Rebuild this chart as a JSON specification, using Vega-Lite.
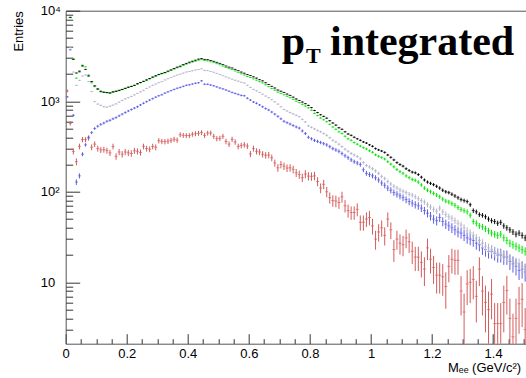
{
"$schema":"https://vega.github.io/schema/vega-lite/v6.json",
"width":460,"height":333,
"autosize":{"type":"none"},
"padding":{"left":65.7,"top":10.7,"right":0,"bottom":34},
"config":{"view":{"stroke":null},"font":"Liberation Sans","axis":{"grid":false}},
"resolve":{"axis":{"y":"independent"}},
"data":{"values":[
{"m":0.005,"b":1120,"be":26,"r":1300,"re":47},
{"m":0.015,"k":8400,"ke":41,"g":8500,"ge":46,"y":3900,"ye":36,"b":3700,"be":48,"r":570,"re":31},
{"m":0.025,"k":2900,"ke":24,"g":2950,"ge":27,"y":2100,"ye":26,"b":700,"be":21,"r":280,"re":22},
{"m":0.035,"k":2050,"ke":20,"g":1800,"ge":21,"y":1500,"ye":22,"b":128,"be":9,"r":215,"re":19},
{"m":0.045,"k":2150,"ke":21,"g":2100,"ge":23,"y":1700,"ye":24,"b":150,"be":9.7,"r":317,"re":23},
{"m":0.055,"k":2450,"ke":22,"g":2500,"ge":25,"y":1900,"ye":25,"b":260,"be":13,"r":377,"re":25},
{"m":0.065,"k":2250,"ke":21,"g":2400,"ge":24,"y":1950,"ye":25,"b":330,"be":14,"r":377,"re":25},
{"m":0.075,"k":1900,"ke":19.5,"g":1950,"ge":22,"y":1650,"ye":23,"b":400,"be":16,"r":392,"re":26},
{"m":0.085,"k":1650,"ke":18,"g":1600,"ge":20,"y":1280,"ye":21,"b":450,"be":17,"r":310,"re":23},
{"m":0.095,"k":1480,"ke":17,"g":1450,"ge":19,"y":990,"ye":18,"b":500,"be":18,"r":336,"re":24},
{"m":0.105,"k":1370,"ke":16.5,"g":1350,"ge":18,"y":930,"ye":17.6,"b":530,"be":18,"r":300,"re":22.5},
{"m":0.115,"k":1290,"ke":16,"g":1270,"ge":17.8,"y":900,"ye":17.3,"b":555,"be":18.6,"r":290,"re":22},
{"m":0.125,"k":1260,"ke":16,"g":1250,"ge":17.7,"y":870,"ye":17,"b":575,"be":19,"r":292,"re":22},
{"m":0.135,"k":1250,"ke":16,"g":1240,"ge":17.6,"y":860,"ye":17,"b":600,"be":19.4,"r":285,"re":22},
{"m":0.145,"k":1235,"ke":15.7,"g":1230,"ge":17.5,"y":880,"ye":17,"b":615,"be":19.6,"r":269,"re":21},
{"m":0.155,"k":1270,"ke":16,"g":1260,"ge":17.7,"y":905,"ye":17.4,"b":640,"be":20,"r":317,"re":23},
{"m":0.165,"k":1290,"ke":16,"g":1285,"ge":18,"y":935,"ye":17.6,"b":660,"be":20.3,"r":246,"re":20.4},
{"m":0.175,"k":1320,"ke":16.2,"g":1310,"ge":18,"y":975,"ye":18,"b":690,"be":20.8,"r":275,"re":21.6},
{"m":0.185,"k":1350,"ke":16.4,"g":1345,"ge":18.3,"y":1020,"ye":18.4,"b":720,"be":21.2,"r":260,"re":21},
{"m":0.195,"k":1390,"ke":16.7,"g":1380,"ge":18.6,"y":1060,"ye":18.8,"b":750,"be":21.6,"r":275,"re":21.6},
{"m":0.205,"k":1430,"ke":17,"g":1420,"ge":18.8,"y":1095,"ye":19,"b":780,"be":22,"r":269,"re":21.3},
{"m":0.215,"k":1460,"ke":17,"g":1455,"ge":19,"y":1130,"ye":19.4,"b":810,"be":22.5,"r":265,"re":21.2},
{"m":0.225,"k":1500,"ke":17.3,"g":1490,"ge":19.3,"y":1175,"ye":19.8,"b":840,"be":23,"r":284,"re":21.9},
{"m":0.235,"k":1560,"ke":17.7,"g":1550,"ge":19.7,"y":1220,"ye":20,"b":870,"be":23.3,"r":280,"re":21.8},
{"m":0.245,"k":1610,"ke":18,"g":1600,"ge":20,"y":1270,"ye":20.6,"b":910,"be":23.8,"r":272,"re":21.4},
{"m":0.255,"k":1660,"ke":18.2,"g":1650,"ge":20.3,"y":1320,"ye":21,"b":950,"be":24.3,"r":317,"re":23},
{"m":0.265,"k":1720,"ke":18.5,"g":1705,"ge":20.6,"y":1385,"ye":21.5,"b":990,"be":24.9,"r":300,"re":22.5},
{"m":0.275,"k":1780,"ke":18.9,"g":1770,"ge":21,"y":1440,"ye":21.9,"b":1030,"be":25.4,"r":295,"re":22.3},
{"m":0.285,"k":1850,"ke":19.2,"g":1835,"ge":21.4,"y":1500,"ye":22.4,"b":1070,"be":25.8,"r":317,"re":23},
{"m":0.295,"k":1910,"ke":19.5,"g":1895,"ge":21.8,"y":1550,"ye":22.7,"b":1110,"be":26.3,"r":310,"re":22.9},
{"m":0.305,"k":1980,"ke":19.9,"g":1960,"ge":22,"y":1605,"ye":23,"b":1150,"be":26.8,"r":367,"re":24.9},
{"m":0.315,"k":2030,"ke":20,"g":2010,"ge":22.4,"y":1650,"ye":23.4,"b":1180,"be":27,"r":360,"re":24.7},
{"m":0.325,"k":2080,"ke":20.4,"g":2055,"ge":22.7,"y":1720,"ye":23.9,"b":1230,"be":27.7,"r":358,"re":24.6},
{"m":0.335,"k":2150,"ke":20.7,"g":2120,"ge":23,"y":1775,"ye":24.3,"b":1270,"be":28,"r":362,"re":24.7},
{"m":0.345,"k":2220,"ke":21,"g":2190,"ge":23.4,"y":1830,"ye":24.7,"b":1310,"be":28.6,"r":370,"re":25},
{"m":0.355,"k":2300,"ke":21.4,"g":2265,"ge":23.8,"y":1890,"ye":25,"b":1350,"be":29,"r":380,"re":25.3},
{"m":0.365,"k":2380,"ke":21.8,"g":2340,"ge":24.2,"y":1945,"ye":25.5,"b":1390,"be":29.5,"r":372,"re":25},
{"m":0.375,"k":2440,"ke":22,"g":2395,"ge":24.5,"y":1990,"ye":25.7,"b":1420,"be":29.8,"r":427,"re":26.9},
{"m":0.385,"k":2540,"ke":22.5,"g":2490,"ge":25,"y":2045,"ye":26,"b":1460,"be":30.2,"r":420,"re":26.6},
{"m":0.395,"k":2620,"ke":22.9,"g":2565,"ge":25.3,"y":2100,"ye":26.5,"b":1500,"be":30.6,"r":418,"re":26.6},
{"m":0.405,"k":2700,"ke":23.2,"g":2640,"ge":25.7,"y":2130,"ye":26.6,"b":1520,"be":30.8,"r":418,"re":26.6},
{"m":0.415,"k":2770,"ke":23.5,"g":2705,"ge":26,"y":2170,"ye":26.9,"b":1550,"be":31.1,"r":432,"re":27},
{"m":0.425,"k":2840,"ke":23.8,"g":2770,"ge":26.3,"y":2210,"ye":27.1,"b":1580,"be":31.4,"r":438,"re":27.2},
{"m":0.435,"k":2920,"ke":24.2,"g":2845,"ge":26.7,"y":2240,"ye":27.3,"b":1600,"be":31.6,"r":442,"re":27.3},
{"m":0.445,"k":2960,"ke":24.3,"g":2880,"ge":26.8,"y":2280,"ye":27.6,"b":1680,"be":32.4,"r":450,"re":27.6},
{"m":0.455,"k":2900,"ke":24,"g":2815,"ge":26.5,"y":2190,"ye":27,"b":1540,"be":31,"r":420,"re":26.6},
{"m":0.465,"k":2880,"ke":24,"g":2790,"ge":26.4,"y":2180,"ye":27,"b":1540,"be":31,"r":445,"re":27.4},
{"m":0.475,"k":2820,"ke":23.7,"g":2730,"ge":26.1,"y":2130,"ye":26.6,"b":1510,"be":30.7,"r":445,"re":27.4},
{"m":0.485,"k":2760,"ke":23.5,"g":2670,"ge":25.8,"y":2090,"ye":26.4,"b":1480,"be":30.4,"r":410,"re":26.3},
{"m":0.495,"k":2690,"ke":23.2,"g":2600,"ge":25.5,"y":2030,"ye":26,"b":1440,"be":30,"r":386,"re":25.5},
{"m":0.505,"k":2620,"ke":22.9,"g":2530,"ge":25.2,"y":1975,"ye":25.7,"b":1400,"be":29.6,"r":390,"re":25.7},
{"m":0.515,"k":2540,"ke":22.5,"g":2450,"ge":24.7,"y":1920,"ye":25.3,"b":1370,"be":29.2,"r":410,"re":26.3},
{"m":0.525,"k":2450,"ke":22.1,"g":2360,"ge":24.3,"y":1860,"ye":24.9,"b":1330,"be":28.8,"r":360,"re":24.7},
{"m":0.535,"k":2380,"ke":21.8,"g":2290,"ge":23.9,"y":1805,"ye":24.5,"b":1290,"be":28.4,"r":336,"re":23.8},
{"m":0.545,"k":2330,"ke":21.6,"g":2240,"ge":23.7,"y":1750,"ye":24.2,"b":1250,"be":27.9,"r":380,"re":25.3},
{"m":0.555,"k":2250,"ke":21.2,"g":2160,"ge":23.2,"y":1705,"ye":23.8,"b":1220,"be":27.6,"r":355,"re":24.5},
{"m":0.565,"k":2180,"ke":20.9,"g":2090,"ge":22.9,"y":1665,"ye":23.6,"b":1190,"be":27.3,"r":317,"re":23.1},
{"m":0.575,"k":2100,"ke":20.5,"g":2010,"ge":22.4,"y":1620,"ye":23.2,"b":1160,"be":26.9,"r":325,"re":23.4},
{"m":0.585,"k":2040,"ke":20.2,"g":1950,"ge":22.1,"y":1590,"ye":23,"b":1150,"be":26.8,"r":330,"re":23.6},
{"m":0.595,"k":1970,"ke":19.8,"g":1880,"ge":21.7,"y":1500,"ye":22.4,"b":1080,"be":26,"r":320,"re":23.3},
{"m":0.605,"k":1920,"ke":19.6,"g":1830,"ge":21.4,"y":1420,"ye":21.8,"b":1030,"be":25.4,"r":262,"re":21},
{"m":0.615,"k":1860,"ke":19.3,"g":1770,"ge":21,"y":1350,"ye":21.2,"b":980,"be":24.7,"r":300,"re":22.5},
{"m":0.625,"k":1800,"ke":19,"g":1710,"ge":20.7,"y":1305,"ye":20.8,"b":950,"be":24.3,"r":280,"re":21.8},
{"m":0.635,"k":1730,"ke":18.6,"g":1645,"ge":20.3,"y":1250,"ye":20.4,"b":910,"be":23.8,"r":275,"re":21.6},
{"m":0.645,"k":1680,"ke":18.3,"g":1595,"ge":20,"y":1195,"ye":20,"b":870,"be":23.3,"r":260,"re":21},
{"m":0.655,"k":1600,"ke":17.9,"g":1520,"ge":19.5,"y":1140,"ye":19.5,"b":830,"be":22.8,"r":253,"re":20.7},
{"m":0.665,"k":1530,"ke":17.5,"g":1450,"ge":19,"y":1095,"ye":19,"b":800,"be":22.3,"r":255,"re":20.8},
{"m":0.675,"k":1460,"ke":17.1,"g":1385,"ge":18.6,"y":1040,"ye":18.6,"b":760,"be":21.8,"r":237,"re":20},
{"m":0.685,"k":1400,"ke":16.7,"g":1325,"ge":18.2,"y":985,"ye":18.1,"b":720,"be":21.2,"r":208,"re":18.7},
{"m":0.695,"k":1330,"ke":16.3,"g":1260,"ge":17.7,"y":930,"ye":17.6,"b":680,"be":20.6,"r":184,"re":17.6},
{"m":0.705,"k":1290,"ke":16.1,"g":1220,"ge":17.5,"y":870,"ye":17,"b":640,"be":20,"r":200,"re":18.4},
{"m":0.715,"k":1250,"ke":15.8,"g":1180,"ge":17.2,"y":810,"ye":16.4,"b":600,"be":19.4,"r":192,"re":18},
{"m":0.725,"k":1200,"ke":15.5,"g":1135,"ge":16.8,"y":780,"ye":16.1,"b":580,"be":19,"r":183,"re":17.6},
{"m":0.735,"k":1160,"ke":15.2,"g":1095,"ge":16.5,"y":750,"ye":15.8,"b":560,"be":18.7,"r":184,"re":17.6},
{"m":0.745,"k":1110,"ke":14.9,"g":1050,"ge":16.2,"y":725,"ye":15.5,"b":540,"be":18.4,"r":177,"re":17.3},
{"m":0.755,"k":1060,"ke":14.6,"g":1000,"ge":15.8,"y":700,"ye":15.3,"b":520,"be":18,"r":162,"re":16.5},
{"m":0.765,"k":1020,"ke":14.3,"g":965,"ge":15.5,"y":675,"ye":15,"b":505,"be":17.8,"r":155,"re":16.2},
{"m":0.775,"k":980,"ke":14,"g":925,"ge":15.2,"y":630,"ye":14.5,"b":470,"be":17.1,"r":143,"re":15.5},
{"m":0.785,"k":940,"ke":13.7,"g":885,"ge":14.9,"y":590,"ye":14,"b":440,"be":16.6,"r":157,"re":16.3},
{"m":0.795,"k":900,"ke":13.4,"g":845,"ge":14.5,"y":535,"ye":13.4,"b":400,"be":15.8,"r":149,"re":15.9},
{"m":0.805,"k":850,"ke":13,"g":795,"ge":14.1,"y":515,"ye":13.1,"b":385,"be":15.5,"r":148,"re":15.8},
{"m":0.815,"k":790,"ke":12.6,"g":735,"ge":13.6,"y":495,"ye":12.8,"b":370,"be":15.2,"r":150,"re":15.9},
{"m":0.825,"k":750,"ke":12.2,"g":695,"ge":13.2,"y":475,"ye":12.6,"b":360,"be":15,"r":130,"re":14.8},
{"m":0.835,"k":710,"ke":11.9,"g":655,"ge":12.8,"y":460,"ye":12.4,"b":350,"be":14.8,"r":110,"re":13.6},
{"m":0.845,"k":680,"ke":11.7,"g":625,"ge":12.5,"y":440,"ye":12.1,"b":340,"be":14.6,"r":121,"re":14.3},
{"m":0.855,"k":650,"ke":11.4,"g":595,"ge":12.2,"y":420,"ye":11.8,"b":330,"be":14.4,"r":100,"re":13},
{"m":0.865,"k":610,"ke":11,"g":555,"ge":11.8,"y":395,"ye":11.5,"b":315,"be":14,"r":86,"re":12.1},
{"m":0.875,"k":575,"ke":10.7,"g":520,"ge":11.4,"y":370,"ye":11.1,"b":300,"be":13.7,"r":80,"re":11.6},
{"m":0.885,"k":545,"ke":10.4,"g":490,"ge":11.1,"y":355,"ye":10.9,"b":290,"be":13.5,"r":79,"re":11.6},
{"m":0.895,"k":510,"ke":10.1,"g":460,"ge":10.7,"y":335,"ye":10.6,"b":280,"be":13.2,"r":76,"re":11.3},
{"m":0.905,"k":490,"ke":9.9,"g":440,"ge":10.5,"y":315,"ye":10.2,"b":265,"be":12.9,"r":88,"re":12.2},
{"m":0.915,"k":460,"ke":9.6,"g":410,"ge":10.1,"y":295,"ye":9.9,"b":250,"be":12.5,"r":70,"re":10.9},
{"m":0.925,"k":435,"ke":9.3,"g":385,"ge":9.8,"y":280,"ye":9.7,"b":238,"be":12.2,"r":62,"re":10.2},
{"m":0.935,"k":420,"ke":9.2,"g":370,"ge":9.6,"y":265,"ye":9.4,"b":225,"be":11.9,"r":59,"re":10},
{"m":0.945,"k":400,"ke":8.9,"g":350,"ge":9.4,"y":255,"ye":9.2,"b":215,"be":11.6,"r":59,"re":10},
{"m":0.955,"k":385,"ke":8.8,"g":335,"ge":9.2,"y":245,"ye":9,"b":208,"be":11.4,"r":64,"re":10.4},
{"m":0.965,"k":370,"ke":8.6,"g":320,"ge":8.9,"y":232,"ye":8.8,"b":200,"be":11.2,"r":46,"re":8.8},
{"m":0.975,"k":355,"ke":8.4,"g":307,"ge":8.8,"y":210,"ye":8.4,"b":175,"be":10.5,"r":46,"re":8.8},
{"m":0.985,"k":345,"ke":8.3,"g":297,"ge":8.6,"y":195,"ye":8.1,"b":160,"be":10,"r":50,"re":9.2},
{"m":0.995,"k":330,"ke":8.1,"g":284,"ge":8.4,"y":188,"ye":7.9,"b":155,"be":9.8,"r":52,"re":9.4},
{"m":1.005,"k":318,"ke":8,"g":273,"ge":8.3,"y":180,"ye":7.7,"b":150,"be":9.7,"r":42,"re":8.4},
{"m":1.015,"k":300,"ke":7.7,"g":256,"ge":8,"y":170,"ye":7.5,"b":143,"be":9.4,"r":30,"re":7.1},
{"m":1.025,"k":290,"ke":7.6,"g":247,"ge":7.9,"y":160,"ye":7.3,"b":135,"be":9.2,"r":36,"re":7.8},
{"m":1.035,"k":282,"ke":7.5,"g":239,"ge":7.7,"y":148,"ye":7,"b":125,"be":8.8,"r":40,"re":8.2},
{"m":1.045,"k":272,"ke":7.4,"g":230,"ge":7.6,"y":140,"ye":6.8,"b":118,"be":8.6,"r":33,"re":7.5},
{"m":1.055,"k":255,"ke":7.1,"g":215,"ge":7.3,"y":130,"ye":6.6,"b":110,"be":8.3,"r":50,"re":9.2},
{"m":1.065,"k":240,"ke":6.9,"g":202,"ge":7.1,"y":122,"ye":6.4,"b":104,"be":8.1,"r":38,"re":8},
{"m":1.075,"k":225,"ke":6.7,"g":189,"ge":6.9,"y":115,"ye":6.2,"b":98,"be":7.8,"r":23,"re":6.2},
{"m":1.085,"k":210,"ke":6.5,"g":176,"ge":6.6,"y":110,"ye":6.1,"b":94,"be":7.7,"r":30,"re":7.1},
{"m":1.095,"k":200,"ke":6.3,"g":167,"ge":6.5,"y":105,"ye":5.9,"b":90,"be":7.5,"r":27,"re":6.8},
{"m":1.105,"k":192,"ke":6.2,"g":160,"ge":6.3,"y":101,"ye":5.8,"b":86,"be":7.3,"r":26,"re":6.6},
{"m":1.115,"k":180,"ke":6,"g":150,"ge":6.1,"y":98,"ye":5.7,"b":82,"be":7.2,"r":31,"re":7.2},
{"m":1.125,"k":172,"ke":5.9,"g":143,"ge":6,"y":94,"ye":5.6,"b":78,"be":7,"r":28,"re":6.9},
{"m":1.135,"k":165,"ke":5.7,"g":137,"ge":5.9,"y":92,"ye":5.5,"b":75,"be":6.8,"r":22,"re":6.1},
{"m":1.145,"k":162,"ke":5.7,"g":134,"ge":5.8,"y":88,"ye":5.4,"b":72,"be":6.7,"r":19,"re":5.7},
{"m":1.155,"k":155,"ke":5.6,"g":128,"ge":5.7,"y":84,"ye":5.3,"b":70,"be":6.6,"r":19,"re":5.7},
{"m":1.165,"k":145,"ke":5.4,"g":119,"ge":5.5,"y":80,"ye":5.2,"b":66,"be":6.4,"r":16.6,"re":5.3},
{"m":1.175,"k":135,"ke":5.2,"g":110,"ge":5.2,"y":77,"ye":5.1,"b":62,"be":6.2,"r":14,"re":4.9},
{"m":1.185,"k":128,"ke":5.1,"g":104,"ge":5.1,"y":72,"ye":4.9,"b":58,"be":6,"r":24,"re":6.4},
{"m":1.195,"k":124,"ke":5,"g":100,"ge":5,"y":68,"ye":4.8,"b":54,"be":5.8,"r":18,"re":5.5},
{"m":1.205,"k":120,"ke":4.9,"g":96,"ge":4.9,"y":64,"ye":4.6,"b":50,"be":5.6,"r":14.6,"re":5},
{"m":1.215,"k":115,"ke":4.8,"g":92,"ge":4.8,"y":61,"ye":4.5,"b":48,"be":5.5,"r":12,"re":4.5},
{"m":1.225,"k":110,"ke":4.7,"g":88,"ge":4.7,"y":66,"ye":4.7,"b":52,"be":5.7,"r":12,"re":4.5},
{"m":1.235,"k":104,"ke":4.6,"g":83,"ge":4.6,"y":60,"ye":4.5,"b":47,"be":5.4,"r":11.5,"re":4.4},
{"m":1.245,"k":100,"ke":4.5,"g":79,"ge":4.4,"y":56,"ye":4.3,"b":44,"be":5.2,"r":9,"re":3.9},
{"m":1.255,"k":98,"ke":4.4,"g":77,"ge":4.4,"y":53,"ye":4.2,"b":42,"be":5.1,"r":15,"re":5},
{"m":1.265,"k":94,"ke":4.3,"g":74,"ge":4.3,"y":51,"ye":4.1,"b":40,"be":5,"r":18,"re":5.5},
{"m":1.275,"k":90,"ke":4.2,"g":71,"ge":4.2,"y":48,"ye":4,"b":38,"be":4.9,"r":17.5,"re":5.4},
{"m":1.285,"k":86,"ke":4.1,"g":67,"ge":4.1,"y":45,"ye":3.9,"b":36,"be":4.7,"r":17.5,"re":5.4},
{"m":1.295,"k":82,"ke":4,"g":64,"ge":4,"y":43,"ye":3.8,"b":35,"be":4.7,"r":8,"re":3.7},
{"m":1.305,"k":80,"ke":4,"g":62,"ge":3.9,"y":40,"ye":3.7,"b":33,"be":4.5,"r":4.7,"re":2.8},
{"m":1.315,"k":78,"ke":3.9,"g":60,"ge":3.9,"y":37,"ye":3.5,"b":31,"be":4.4,"r":9.6,"re":4},
{"m":1.325,"k":72,"ke":3.8,"g":55,"ge":3.7,"y":35,"ye":3.4,"b":30,"be":4.3,"r":10,"re":4.1},
{"m":1.335,"k":62,"ke":3.5,"g":47,"ge":3.4,"y":33,"ye":3.3,"b":29,"be":4.3,"r":10.8,"re":4.3},
{"m":1.345,"k":60,"ke":3.5,"g":45,"ge":3.4,"y":31,"ye":3.2,"b":27,"be":4.1,"r":7,"re":3.4},
{"m":1.355,"k":56,"ke":3.3,"g":42,"ge":3.2,"y":29,"ye":3.1,"b":26,"be":4,"r":14,"re":4.9},
{"m":1.365,"k":55,"ke":3.3,"g":41,"ge":3.2,"y":27,"ye":3,"b":24,"be":3.9,"r":8,"re":3.7},
{"m":1.375,"k":53,"ke":3.3,"g":39,"ge":3.1,"y":25,"ye":2.9,"b":23,"be":3.8,"r":6,"re":3.2},
{"m":1.385,"k":50,"ke":3.2,"g":37,"ge":3,"y":24,"ye":2.8,"b":22,"be":3.7,"r":5,"re":2.9},
{"m":1.395,"k":48,"ke":3.1,"g":35,"ge":3,"y":23,"ye":2.8,"b":22,"be":3.7,"r":7.4,"re":3.5},
{"m":1.405,"k":47,"ke":3.1,"g":34,"ge":2.9,"y":22,"ye":2.7,"b":21,"be":3.6,"r":3.5,"re":2.4},
{"m":1.415,"k":45,"ke":3,"g":33,"ge":2.9,"y":21,"ye":2.6,"b":20,"be":3.5,"r":3.5,"re":2.4},
{"m":1.425,"k":46,"ke":3,"g":34,"ge":2.9,"y":20.5,"ye":2.6,"b":20,"be":3.5,"r":3.5,"re":2.4},
{"m":1.435,"k":42,"ke":2.9,"g":31,"ge":2.8,"y":20,"ye":2.6,"b":19,"be":3.4,"r":6,"re":3.2},
{"m":1.445,"k":40,"ke":2.8,"g":29,"ge":2.7,"y":19,"ye":2.5,"b":19,"be":3.4,"r":8.1,"re":3.7},
{"m":1.455,"k":38,"ke":2.8,"g":27,"ge":2.6,"y":18,"ye":2.4,"b":17,"be":3.3,"r":4,"re":2.6},
{"m":1.465,"k":36,"ke":2.7,"g":26,"ge":2.5,"y":17,"ye":2.4,"b":16,"be":3.2,"r":2.5,"re":2},
{"m":1.475,"k":34,"ke":2.6,"g":25,"ge":2.5,"y":16.5,"ye":2.3,"b":15,"be":3.1,"r":4,"re":2.6},
{"m":1.485,"k":35,"ke":2.6,"g":24,"ge":2.4,"y":16,"ye":2.3,"b":13.5,"be":2.9,"r":5.8,"re":3.1},
{"m":1.495,"k":33,"ke":2.6,"g":23,"ge":2.4,"y":15,"ye":2.2,"b":14,"be":3,"r":6.5,"re":3.3},
{"m":1.505,"k":31,"ke":2.5,"g":22,"ge":2.3,"y":14,"ye":2.2,"b":13,"be":2.8,"r":3,"re":2.2}
]},
"layer":[
{"mark":{"type":"tick","orient":"horizontal","size":3,"thickness":1,"color":"#d45a5a"},
 "encoding":{
  "x":{"field":"m","type":"quantitative","scale":{"type":"linear","domain":[0,1.5067],"nice":false,"zero":false},
   "axis":{"orient":"bottom","grid":false,"values":[0,0.05,0.1,0.15,0.2,0.25,0.3,0.35,0.4,0.45,0.5,0.55,0.6,0.65,0.7,0.75,0.8,0.85,0.9,0.95,1,1.05,1.1,1.15,1.2,1.25,1.3,1.35,1.4,1.45,1.5],
    "labelExpr":"round(datum.value*100)%20==0 ? format(datum.value,'~g') : ''",
    "tickSize":{"condition":{"test":"round(datum.value*100)%20==0","value":-10},"value":-5},
    "labelPadding":14,"labelFlush":false,"labelOverlap":false,"labelBound":false,
    "labelFont":"Liberation Sans","labelFontSize":13,"labelColor":"#000",
    "domainColor":"#555","tickColor":"#333",
    "title":"Mₑₑ (GeV/c²)","titleFont":"Liberation Sans","titleFontSize":13,"titleFontWeight":"normal","titleColor":"#000",
    "titleAnchor":"end","titleAlign":"right","titleBaseline":"alphabetic","titleX":455,"titleY":28}},
  "y":{"field":"r","type":"quantitative","scale":{"type":"log","domain":[2.1,10000],"nice":false,"clamp":true},
   "axis":{"orient":"left","grid":false,"values":[10,100,1000,10000],
    "labelExpr":"datum.value==10?'10':datum.value==100?'10²':datum.value==1000?'10³':'10⁴'",
    "tickSize":-14,"labelPadding":39.5,"labelAlign":"left","labelOverlap":false,"labelBound":false,"labelFlush":false,
    "labelFont":"Liberation Sans","labelFontSize":13,"labelColor":"#000",
    "domainColor":"#555","tickColor":"#333",
    "title":"Entries","titleFont":"Liberation Sans","titleFontSize":13,"titleFontWeight":"normal","titleColor":"#000",
    "titleAngle":270,"titleAlign":"right","titleBaseline":"top","titleX":-53,"titleY":0}}}},
{"mark":{"type":"errorbar","color":"#d45a5a","thickness":1},
 "encoding":{"x":{"field":"m","type":"quantitative","axis":null},"y":{"field":"r","type":"quantitative","axis":null,"scale":{"type":"log"}},"yError":{"field":"re"}}},
{"mark":{"type":"errorbar","color":"#5c5ce6","thickness":1},
 "encoding":{"x":{"field":"m","type":"quantitative","axis":null},"y":{"field":"b","type":"quantitative","axis":null,"scale":{"type":"log"}},"yError":{"field":"be"}}},
{"mark":{"type":"tick","orient":"horizontal","size":3,"thickness":1,"color":"#5c5ce6"},
 "encoding":{"x":{"field":"m","type":"quantitative","axis":null},"y":{"field":"b","type":"quantitative","scale":{"type":"log"},
   "axis":{"orient":"left","grid":false,"values":[3,4,5,6,7,8,9,20,30,40,50,60,70,80,90,200,300,400,500,600,700,800,900,2000,3000,4000,5000,6000,7000,8000,9000],"tickSize":-7,"labels":false,"domain":false,"title":null,"tickColor":"#333"}}}},
{"transform":[{"filter":{"field":"y","valid":true}}],
 "mark":{"type":"errorbar","color":"#b4b4cc","thickness":1},
 "encoding":{"x":{"field":"m","type":"quantitative","axis":null},"y":{"field":"y","type":"quantitative","axis":null,"scale":{"type":"log"}},"yError":{"field":"ye"}}},
{"transform":[{"filter":{"field":"y","valid":true}}],
 "mark":{"type":"tick","orient":"horizontal","size":3,"thickness":1,"color":"#b4b4cc"},
 "encoding":{"x":{"field":"m","type":"quantitative","axis":null},"y":{"field":"y","type":"quantitative","axis":null,"scale":{"type":"log"}}}},
{"transform":[{"filter":{"field":"g","valid":true}}],
 "mark":{"type":"errorbar","color":"#00e600","thickness":1},
 "encoding":{"x":{"field":"m","type":"quantitative","axis":null},"y":{"field":"g","type":"quantitative","axis":null,"scale":{"type":"log"}},"yError":{"field":"ge"}}},
{"transform":[{"filter":{"field":"g","valid":true}}],
 "mark":{"type":"tick","orient":"horizontal","size":3,"thickness":1,"color":"#00e600"},
 "encoding":{"x":{"field":"m","type":"quantitative","axis":null},"y":{"field":"g","type":"quantitative","axis":null,"scale":{"type":"log"}}}},
{"transform":[{"filter":{"field":"k","valid":true}}],
 "mark":{"type":"errorbar","color":"#000000","thickness":1},
 "encoding":{"x":{"field":"m","type":"quantitative","axis":null},"y":{"field":"k","type":"quantitative","axis":null,"scale":{"type":"log"}},"yError":{"field":"ke"}}},
{"transform":[{"filter":{"field":"k","valid":true}}],
 "mark":{"type":"tick","orient":"horizontal","size":3,"thickness":1,"color":"#000000"},
 "encoding":{"x":{"field":"m","type":"quantitative","axis":null},"y":{"field":"k","type":"quantitative","axis":null,"scale":{"type":"log"}}}},
{"data":{"values":[{}]},
 "mark":{"type":"text","text":"p","font":"Liberation Serif","fontWeight":"bold","fontSize":42,"align":"left","baseline":"alphabetic","color":"#000"},
 "encoding":{"x":{"datum":0.7075,"type":"quantitative","axis":null},"y":{"datum":3243,"type":"quantitative","axis":null,"scale":{"type":"log"}}}},
{"data":{"values":[{}]},
 "mark":{"type":"text","text":"T","font":"Liberation Serif","fontWeight":"bold","fontSize":22,"align":"left","baseline":"alphabetic","color":"#000","dy":8},
 "encoding":{"x":{"datum":0.787,"type":"quantitative","axis":null},"y":{"datum":3243,"type":"quantitative","axis":null,"scale":{"type":"log"}}}},
{"data":{"values":[{}]},
 "mark":{"type":"text","text":"integrated","font":"Liberation Serif","fontWeight":"bold","fontSize":42,"align":"left","baseline":"alphabetic","color":"#000"},
 "encoding":{"x":{"datum":0.8657,"type":"quantitative","axis":{"orient":"top","grid":false,"ticks":false,"labels":false,"title":null,"domainColor":"#555"}},"y":{"datum":3243,"type":"quantitative","axis":null,"scale":{"type":"log"}}}}
]
}
